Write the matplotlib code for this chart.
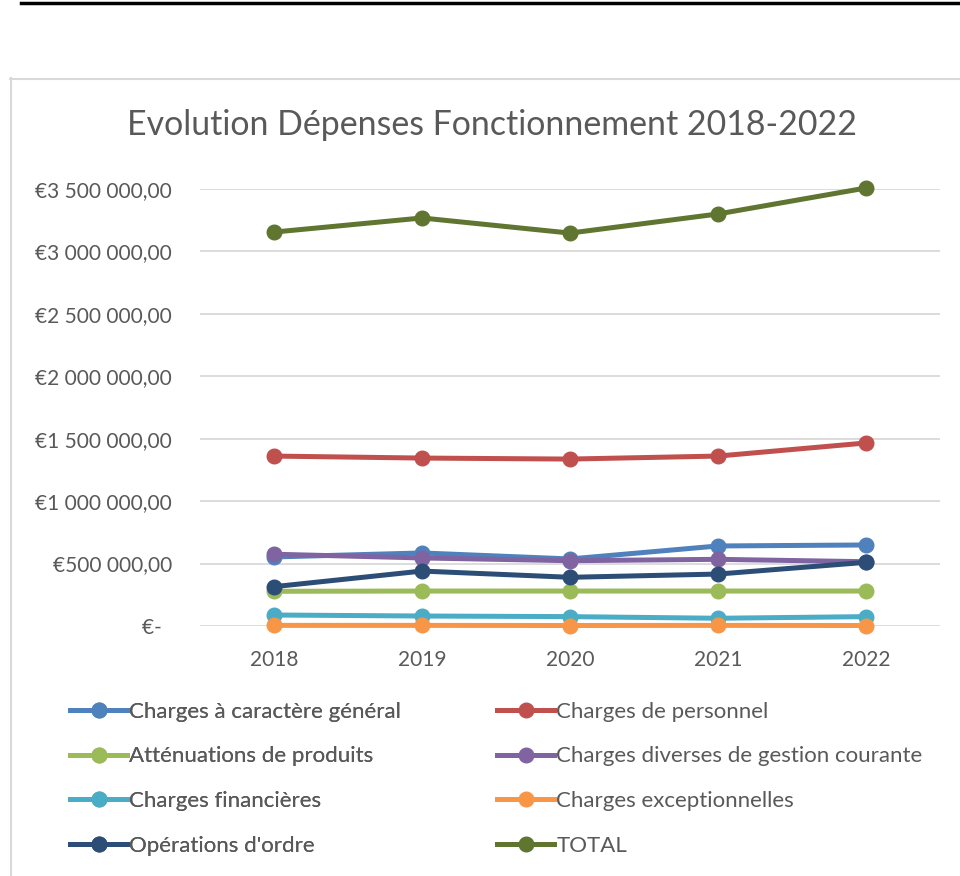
import matplotlib.pyplot as plt
from matplotlib.lines import Line2D

plt.rcParams['font.family'] = ['Lato', 'DejaVu Sans']

annees = ['2018', '2019', '2020', '2021', '2022']

charges_generales = [553000, 585000, 537000, 641000, 649000]
charges_personnel = [1361000, 1345000, 1337000, 1361000, 1466000]
attenuations = [278000, 280000, 280000, 280000, 280000]
charges_diverses = [575000, 545000, 523000, 534000, 515000]
charges_financieres = [88000, 80000, 75000, 62000, 75000]
charges_exceptionnelles = [5000, 5000, 4000, 5000, 4000]
operations_ordre = [315000, 440000, 390000, 416000, 510000]
total = [3155000, 3268000, 3147000, 3300000, 3508000]

noms = ['Charges à caractère général', 'Charges de personnel',
        'Atténuations de produits', 'Charges diverses de gestion courante',
        'Charges financières', 'Charges exceptionnelles',
        "Opérations d'ordre", 'TOTAL']
series = [charges_generales, charges_personnel, attenuations, charges_diverses,
          charges_financieres, charges_exceptionnelles, operations_ordre, total]
couleurs = ['#4F81BD', '#C0504D', '#9BBB59', '#8064A2',
            '#4BACC6', '#F79646', '#2C4D75', '#5F7530']

gris = '#595959'

fig = plt.figure(figsize=(9.6, 8.76), dpi=100)
ax = fig.add_axes([200/960, 1-626/876, 740/960, (626-189)/876])

x = range(len(annees))
for vals, c in zip(series, couleurs):
    ax.plot(x, vals, color=c, lw=3.6, marker='o', ms=10.5, clip_on=False,
            solid_capstyle='round', zorder=3)

ax.set_xlim(-0.5, 4.5)
ax.set_ylim(0, 3500000)
ticks = list(range(0, 3500001, 500000))
ax.set_yticks(ticks)
labels = []
for t in ticks:
    if t == 0:
        labels.append('€-  ')
    else:
        labels.append('€' + f'{t:,.2f}'.replace(',', ' ').replace('.', ','))
ax.set_yticklabels(labels)
ax.set_xticks(list(x))
ax.set_xticklabels(annees)
ax.tick_params(axis='both', length=0, labelsize=15, colors=gris)
ax.tick_params(axis='y', pad=20)
ax.tick_params(axis='x', pad=17)
ax.grid(axis='y', color='#D9D9D9', lw=1.3)
ax.set_axisbelow(True)
for s in ax.spines.values():
    s.set_visible(False)

fig.text(492/960, 1-125/876, 'Evolution Dépenses Fonctionnement 2018-2022',
         ha='center', va='center', fontsize=24.4, color=gris)

# cadre du graphique + trait noir en haut
fig.add_artist(Line2D([10.5/960, 10.5/960], [0, 1-78/876], color='#D9D9D9', lw=1.5))
fig.add_artist(Line2D([10/960, 1], [1-78.5/876, 1-78.5/876], color='#D9D9D9', lw=1.5))
fig.add_artist(Line2D([21/960, 1], [1-2.5/876, 1-2.5/876], color='black', lw=2.5))

handles = [Line2D([], [], color=c, lw=3.6, marker='o', ms=10.5) for c in couleurs]

leg1 = fig.legend(handles[0::2], noms[0::2], loc='upper left',
                  bbox_to_anchor=(70/960, 1-701.5/876), frameon=False,
                  fontsize=16, handlelength=2.57, handletextpad=0.1,
                  labelspacing=1.12, borderpad=0, borderaxespad=0, labelcolor=gris)
leg2 = fig.legend(handles[1::2], noms[1::2], loc='upper left',
                  bbox_to_anchor=(497/960, 1-701.5/876), frameon=False,
                  fontsize=16, handlelength=2.57, handletextpad=0.1,
                  labelspacing=1.12, borderpad=0, borderaxespad=0, labelcolor=gris)
fig.add_artist(leg1)

fig.savefig('out.png', dpi=100)
